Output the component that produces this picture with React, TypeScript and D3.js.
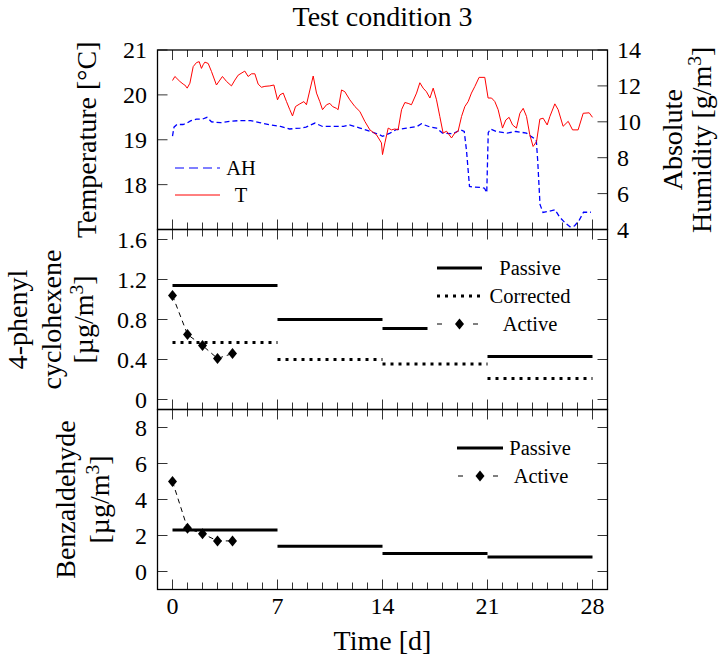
import React from "react";
import * as d3 from "d3";

// ---------- data ----------
const tempDays = [0, 0.16, 0.49, 0.71, 0.82, 0.98, 1.16, 1.38, 1.6, 1.78, 1.93, 2.04, 2.16, 2.38, 2.6, 2.93, 3.16, 3.33, 3.6, 3.93, 4.16, 4.38, 4.82, 5.04, 5.27, 5.49, 5.71, 5.93, 6.16, 6.49, 6.76, 7.0, 7.16, 7.38, 7.6, 7.82, 8.0, 8.2, 8.49, 8.76, 8.93, 9.16, 9.38, 9.6, 9.82, 10.0, 10.27, 10.49, 10.67, 10.93, 11.04, 11.27, 11.49, 11.82, 12.16, 12.49, 12.82, 13.16, 13.6, 13.93, 14.0, 14.16, 14.38, 14.6, 14.82, 15.04, 15.27, 15.49, 15.71, 15.93, 16.27, 16.49, 16.71, 16.93, 17.16, 17.38, 17.6, 17.82, 18.04, 18.27, 18.6, 18.82, 19.04, 19.27, 19.49, 19.71, 19.93, 20.16, 20.44, 20.82, 21.04, 21.27, 21.49, 21.71, 22.0, 22.22, 22.44, 22.67, 22.93, 23.16, 23.38, 23.6, 23.82, 24.04, 24.27, 24.49, 24.71, 24.98, 25.16, 25.49, 25.71, 26.04, 26.38, 26.67, 27.04, 27.38, 27.78, 28.0];
const tempValues = [20.32, 20.41, 20.3, 20.24, 20.22, 20.15, 20.26, 20.63, 20.72, 20.74, 20.59, 20.67, 20.73, 20.7, 20.52, 20.22, 20.33, 20.41, 20.3, 20.2, 20.33, 20.44, 20.53, 20.41, 20.47, 20.47, 20.24, 20.17, 20.19, 20.2, 20.22, 19.89, 20.0, 20.04, 19.85, 19.67, 19.53, 19.74, 19.8, 19.85, 19.78, 20.11, 20.42, 20.04, 19.85, 19.67, 19.78, 19.81, 19.74, 19.7, 19.67, 20.11, 20.07, 19.89, 19.74, 19.63, 19.41, 19.22, 19.11, 18.93, 18.67, 18.93, 19.26, 19.22, 19.24, 19.22, 19.67, 19.83, 19.81, 19.78, 20.04, 20.27, 20.15, 20.07, 19.93, 20.15, 19.89, 19.52, 19.15, 19.19, 19.04, 19.15, 19.19, 19.52, 19.74, 19.85, 20.04, 20.19, 20.39, 20.39, 19.93, 19.93, 19.85, 19.67, 19.26, 19.44, 19.5, 19.33, 19.26, 19.59, 19.7, 19.52, 19.11, 18.85, 18.96, 19.46, 19.48, 19.33, 19.52, 19.8, 19.67, 19.3, 19.41, 19.22, 19.22, 19.59, 19.6, 19.5];

const ahDays = [0, 0.1, 0.3, 0.7, 1.0, 1.2, 1.6, 2.0, 2.3, 2.6, 3.2, 3.8, 4.5, 5.2, 5.8, 6.5, 7.2, 7.8, 8.5, 8.9, 9.5, 10.0, 10.7, 11.4, 11.8, 12.5, 13.2, 13.8, 14.0, 14.5, 14.9, 15.6, 16.3, 16.6, 17.2, 17.6, 18.0, 18.7, 19.2, 19.45, 19.6, 19.8, 20.0, 20.5, 20.8, 20.95, 21.05, 21.2, 21.6, 22.3, 22.9, 23.6, 23.9, 24.25, 24.35, 24.5, 24.7, 25.0, 25.5, 25.8, 26.2, 26.5, 26.8, 27.1, 27.4, 27.9];
const ahValues = [9.2, 9.7, 9.85, 9.85, 9.95, 10.05, 10.15, 10.15, 10.25, 10.0, 9.95, 10.02, 10.07, 10.07, 9.96, 9.83, 9.74, 9.6, 9.65, 9.7, 9.93, 9.74, 9.74, 9.74, 9.83, 9.65, 9.46, 9.28, 9.19, 9.37, 9.56, 9.65, 9.74, 9.89, 9.7, 9.65, 9.37, 9.33, 9.56, 9.46, 8.4, 6.4, 6.37, 6.35, 6.3, 6.05, 9.4, 9.6, 9.46, 9.37, 9.46, 9.37, 9.19, 9.0, 7.8, 5.4, 4.95, 5.0, 5.1, 4.7, 4.35, 4.15, 4.2, 4.5, 4.96, 4.96];

const phenylPassiveStart = [0, 7, 14, 21];
const phenylPassiveEnd = [7, 14, 17, 28];
const phenylPassive = [1.14, 0.8, 0.71, 0.43];
const phenylCorrectedStart = [0, 7, 14, 21];
const phenylCorrectedEnd = [7, 14, 21, 28];
const phenylCorrected = [0.57, 0.4, 0.355, 0.21];
const activeDays = [0, 1, 2, 3, 4];
const phenylActive = [1.04, 0.65, 0.54, 0.41, 0.46];

const benzPassiveStart = [0, 7, 14, 21];
const benzPassiveEnd = [7, 14, 21, 28];
const benzPassive = [2.3, 1.4, 1.0, 0.8];
const benzActive = [5.0, 2.4, 2.1, 1.7, 1.7];

const xMajorTicks = [0, 7, 14, 21, 28];
const tempTicks = [18, 19, 20, 21];
const ahTicks = [4, 6, 8, 10, 12, 14];
const phenylTicks = [0, 0.4, 0.8, 1.2, 1.6];
const benzTicks = [0, 2, 4, 6, 8];

// ---------- layout ----------
const W = 721, H = 664;
const L = 157.5, R = 607.5;
const P1 = [50, 229.5], P2 = [229.5, 409.5], P3 = [409.5, 589.5];
const FONT = "'Liberation Serif', 'Times New Roman', serif";

const x = d3.scaleLinear().domain([-1, 29]).range([L, R]);
const yT = d3.scaleLinear().domain([17, 21]).range([P1[1], P1[0]]);
const yAH = d3.scaleLinear().domain([4, 14]).range([P1[1], P1[0]]);
const yPh = d3.scaleLinear().domain([-0.1, 1.7]).range([P2[1], P2[0]]);
const yBz = d3.scaleLinear().domain([-1, 9]).range([P3[1], P3[0]]);

const diamond = "M0,-5.5L4.5,0L0,5.5L-4.5,0Z";
const fmt1 = (v: number) => (v === 0 ? "0" : d3.format(".1f")(v));

function XTicks({ top, bottom }: { top: number; bottom: number }) {
  const days = d3.range(0, 29);
  return (
    <g stroke="#000" strokeWidth={0.8}>
      {days.map((d) => {
        const len = xMajorTicks.includes(d) ? 10 : 7;
        return (
          <g key={d}>
            <line x1={x(d)} x2={x(d)} y1={top} y2={top + len} />
            <line x1={x(d)} x2={x(d)} y1={bottom} y2={bottom - len} />
          </g>
        );
      })}
    </g>
  );
}

function YTicks({ ticks, scale, side }: { ticks: number[]; scale: any; side: "left" | "right" | "both" }) {
  return (
    <g stroke="#000" strokeWidth={0.8}>
      {ticks.map((t) => (
        <g key={t}>
          {side !== "right" && <line x1={L} x2={L + 10} y1={scale(t)} y2={scale(t)} />}
          {side !== "left" && <line x1={R} x2={R - 10} y1={scale(t)} y2={scale(t)} />}
        </g>
      ))}
    </g>
  );
}

function Segments({ starts, ends, vals, scale, dash }: { starts: number[]; ends: number[]; vals: number[]; scale: any; dash?: string }) {
  return (
    <g stroke="#000" strokeWidth={3} strokeDasharray={dash} fill="none">
      {vals.map((v, i) => (
        <line key={i} x1={x(starts[i])} x2={x(ends[i])} y1={scale(v)} y2={scale(v)} />
      ))}
    </g>
  );
}

function Active({ vals, scale }: { vals: number[]; scale: any }) {
  const line = d3.line<number>().x((_, i) => x(activeDays[i])).y((v) => scale(v));
  return (
    <g>
      <path d={line(vals) || ""} fill="none" stroke="#000" strokeWidth={1} strokeDasharray="5 4" />
      {vals.map((v, i) => (
        <path key={i} d={diamond} transform={`translate(${x(activeDays[i])},${scale(v)})`} fill="#000" />
      ))}
    </g>
  );
}

function RotLabel({ bx, cy, lines }: { bx: number[]; cy: number; lines: React.ReactNode[] }) {
  return (
    <g>
      {lines.map((ln, i) => (
        <text key={i} transform={`translate(${bx[i]},${cy}) rotate(-90)`} textAnchor="middle" fontFamily={FONT} fontSize={28} fill="#000">
          {ln}
        </text>
      ))}
    </g>
  );
}

const ugm3 = (
  <>
    [µg/m<tspan baselineShift="super" fontSize="70%">3</tspan>]
  </>
);
const gm3 = (
  <>
    Humidity [g/m<tspan baselineShift="super" fontSize="70%">3</tspan>]
  </>
);

export default function App() {
  const tLine = d3.line<number>().x((_, i) => x(tempDays[i])).y((v) => yT(v));
  const ahLine = d3.line<number>().x((_, i) => x(ahDays[i])).y((v) => yAH(v));
  const tickFont = { fontFamily: FONT, fontSize: 24, fill: "#000" } as const;
  const legFont = { fontFamily: FONT, fontSize: 20.5, fill: "#000" } as const;

  return (
    <svg width={W} height={H} style={{ position: "absolute", left: 0, top: 0, background: "#fff" }}>
      <defs>
        <clipPath id="clipTop">
          <rect x={L} y={P1[0]} width={R - L} height={P1[1] - P1[0]} />
        </clipPath>
      </defs>
      <rect x={0} y={0} width={W} height={H} fill="#fff" />

      {/* title */}
      <text x={(L + R) / 2} y={26} textAnchor="middle" fontFamily={FONT} fontSize={28}>
        Test condition 3
      </text>

      {/* ---------- top panel ---------- */}
      <g clipPath="url(#clipTop)">
        <path d={ahLine(ahValues) || ""} fill="none" stroke="#0000ff" strokeWidth={1.3} strokeDasharray="5 3" />
        <path d={tLine(tempValues) || ""} fill="none" stroke="#ff0000" strokeWidth={1} />
      </g>
      <XTicks top={P1[0]} bottom={P1[1]} />
      <YTicks ticks={tempTicks} scale={yT} side="left" />
      <YTicks ticks={ahTicks} scale={yAH} side="right" />
      {tempTicks.map((t) => (
        <text key={t} x={147} y={yT(t) + 8} textAnchor="end" {...tickFont}>{t}</text>
      ))}
      {ahTicks.map((t) => (
        <text key={t} x={617} y={yAH(t) + 8} textAnchor="start" {...tickFont}>{t}</text>
      ))}
      {/* legend top */}
      <line x1={175} x2={220} y1={168} y2={168} stroke="#0000ff" strokeWidth={1.2} strokeDasharray="9 5" />
      <text x={241} y={175} textAnchor="middle" {...legFont}>AH</text>
      <line x1={175} x2={220} y1={195} y2={195} stroke="#ff0000" strokeWidth={1} />
      <text x={241} y={202} textAnchor="middle" {...legFont}>T</text>

      {/* ---------- middle panel ---------- */}
      <Segments starts={phenylPassiveStart} ends={phenylPassiveEnd} vals={phenylPassive} scale={yPh} />
      <Segments starts={phenylCorrectedStart} ends={phenylCorrectedEnd} vals={phenylCorrected} scale={yPh} dash="3 5" />
      <Active vals={phenylActive} scale={yPh} />
      <XTicks top={P2[0]} bottom={P2[1]} />
      <YTicks ticks={phenylTicks} scale={yPh} side="both" />
      {phenylTicks.map((t) => (
        <text key={t} x={147} y={yPh(t) + 8} textAnchor="end" {...tickFont}>{fmt1(t)}</text>
      ))}
      {/* legend middle */}
      <line x1={437} x2={482} y1={268} y2={268} stroke="#000" strokeWidth={3} />
      <text x={530} y={275} textAnchor="middle" {...legFont}>Passive</text>
      <line x1={437} x2={482} y1={296} y2={296} stroke="#000" strokeWidth={3} strokeDasharray="3 5" />
      <text x={530} y={303} textAnchor="middle" {...legFont}>Corrected</text>
      <line x1={437} x2={442} y1={324} y2={324} stroke="#000" strokeWidth={1} />
      <path d={diamond} transform="translate(459.5,324)" fill="#000" />
      <line x1={473} x2={478} y1={324} y2={324} stroke="#000" strokeWidth={1} />
      <text x={530} y={331} textAnchor="middle" {...legFont}>Active</text>

      {/* ---------- bottom panel ---------- */}
      <Segments starts={benzPassiveStart} ends={benzPassiveEnd} vals={benzPassive} scale={yBz} />
      <Active vals={benzActive} scale={yBz} />
      <XTicks top={P3[0]} bottom={P3[1]} />
      <YTicks ticks={benzTicks} scale={yBz} side="both" />
      {benzTicks.map((t) => (
        <text key={t} x={147} y={yBz(t) + 8} textAnchor="end" {...tickFont}>{t}</text>
      ))}
      {/* legend bottom */}
      <line x1={457} x2={503} y1={448} y2={448} stroke="#000" strokeWidth={3} />
      <text x={540} y={455} textAnchor="middle" {...legFont}>Passive</text>
      <line x1={458} x2={463} y1={476} y2={476} stroke="#000" strokeWidth={1} />
      <path d={diamond} transform="translate(480,476)" fill="#000" />
      <line x1={493} x2={498} y1={476} y2={476} stroke="#000" strokeWidth={1} />
      <text x={541} y={483} textAnchor="middle" {...legFont}>Active</text>

      {/* x tick labels */}
      {xMajorTicks.map((t) => (
        <text key={t} x={x(t)} y={614} textAnchor="middle" {...tickFont}>{t}</text>
      ))}
      <text x={(L + R) / 2} y={650} textAnchor="middle" fontFamily={FONT} fontSize={28}>Time [d]</text>

      {/* panel frames */}
      <g fill="none" stroke="#000" strokeWidth={1.3}>
        <rect x={L} y={P1[0]} width={R - L} height={P1[1] - P1[0]} />
        <rect x={L} y={P2[0]} width={R - L} height={P2[1] - P2[0]} />
        <rect x={L} y={P3[0]} width={R - L} height={P3[1] - P3[0]} />
      </g>

      {/* axis labels */}
      <RotLabel bx={[96]} cy={(P1[0] + P1[1]) / 2} lines={["Temperature [°C]"]} />
      <RotLabel bx={[27, 61, 93]} cy={(P2[0] + P2[1]) / 2} lines={["4-phenyl", "cyclohexene", ugm3]} />
      <RotLabel bx={[75, 109]} cy={(P3[0] + P3[1]) / 2} lines={["Benzaldehyde", ugm3]} />
      <RotLabel bx={[682, 711]} cy={(P1[0] + P1[1]) / 2} lines={["Absolute", gm3]} />
    </svg>
  );
}
